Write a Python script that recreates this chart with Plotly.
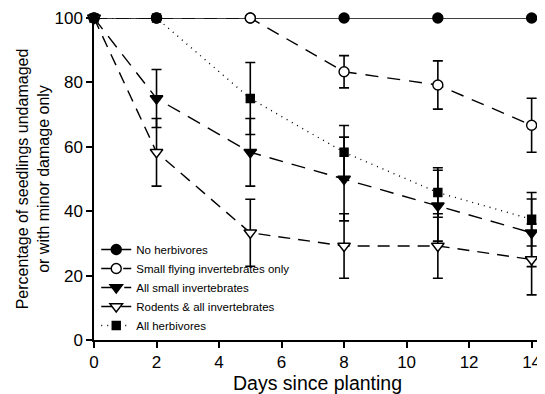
import plotly.graph_objects as go

days = [0, 2, 5, 8, 11, 14]

no_herb = [100, 100, 100, 100, 100, 100]
no_herb_err = [0, 0, 0, 0, 0, 0]

small_flying = [100, 100, 100, 83.3, 79.2, 66.7]
small_flying_err = [0, 0, 0, 5.0, 7.5, 8.4]

all_small = [100, 75.0, 58.3, 50.0, 41.7, 33.3]
all_small_err = [0, 9.0, 10.5, 13.0, 11.0, 10.5]

rodents = [100, 58.3, 33.3, 29.2, 29.2, 25.0]
rodents_err = [0, 10.5, 10.4, 10.0, 10.0, 11.0]

all_herb = [100, 100, 75.0, 58.3, 45.8, 37.5]
all_herb_err = [0, 0, 11.2, 8.3, 7.7, 8.3]

names = ["No herbivores", "Small flying invertebrates only", "All small invertebrates",
         "Rodents & all invertebrates", "All herbivores"]

# name, values, errors, symbol, fill, dash, marker size
series = [
    (names[0], no_herb, no_herb_err, "circle", "black", "solid", 10),
    (names[1], small_flying, small_flying_err, "circle", "white", "13px,9px", 10),
    (names[2], all_small, all_small_err, "triangle-down", "black", "14px,9px", 11),
    (names[3], rodents, rodents_err, "triangle-down", "white", "12px,8px", 11),
    (names[4], all_herb, all_herb_err, "square", "black", "1px,5px", 8),
]

fig = go.Figure()
for name, vals, errs, sym, fill, dash, msize in series:
    fig.add_trace(go.Scatter(
        x=days, y=vals, name=name, mode="lines+markers",
        line=dict(color="black", width=1.4, dash=dash),
        marker=dict(symbol=sym, size=msize, color=fill,
                    line=dict(color="black", width=1.4)),
        error_y=dict(type="data", array=errs, visible=True, color="black",
                     thickness=1.6, width=5),
        cliponaxis=False,
    ))

# page body has an 8px default margin, so the figure is sized to fit the window
fig.update_layout(
    width=537, height=386,
    margin=dict(l=86, r=4, t=10, b=54),
    paper_bgcolor="white", plot_bgcolor="white",
    font=dict(family="Liberation Sans, Arial, sans-serif", color="black", size=16),
    showlegend=True,
    legend=dict(x=0.005, y=0.0, xanchor="left", yanchor="bottom",
                bgcolor="rgba(0,0,0,0)", font=dict(size=11.5),
                tracegroupgap=0, itemwidth=30),
)
fig.update_xaxes(
    range=[0, 14.3], tickvals=[0, 2, 4, 6, 8, 10, 12, 14],
    showline=True, linecolor="black", linewidth=1.5, mirror=False,
    ticks="outside", ticklen=6, tickwidth=1.5, tickcolor="black",
    showgrid=False, zeroline=False, automargin=False,
    title=dict(text="Days since planting", font=dict(size=19.5), standoff=1),
    tickfont=dict(size=17),
)
fig.update_yaxes(
    range=[0, 100], tickvals=[0, 20, 40, 60, 80, 100],
    showline=True, linecolor="black", linewidth=1.5,
    ticks="outside", ticklen=6, tickwidth=1.5, tickcolor="black",
    showgrid=False, zeroline=False, automargin=False,
    title=dict(text="Percentage of seedlings undamaged<br>or with minor damage only",
               font=dict(size=16), standoff=1),
    tickfont=dict(size=17),
)

fig.write_html("out.html")
